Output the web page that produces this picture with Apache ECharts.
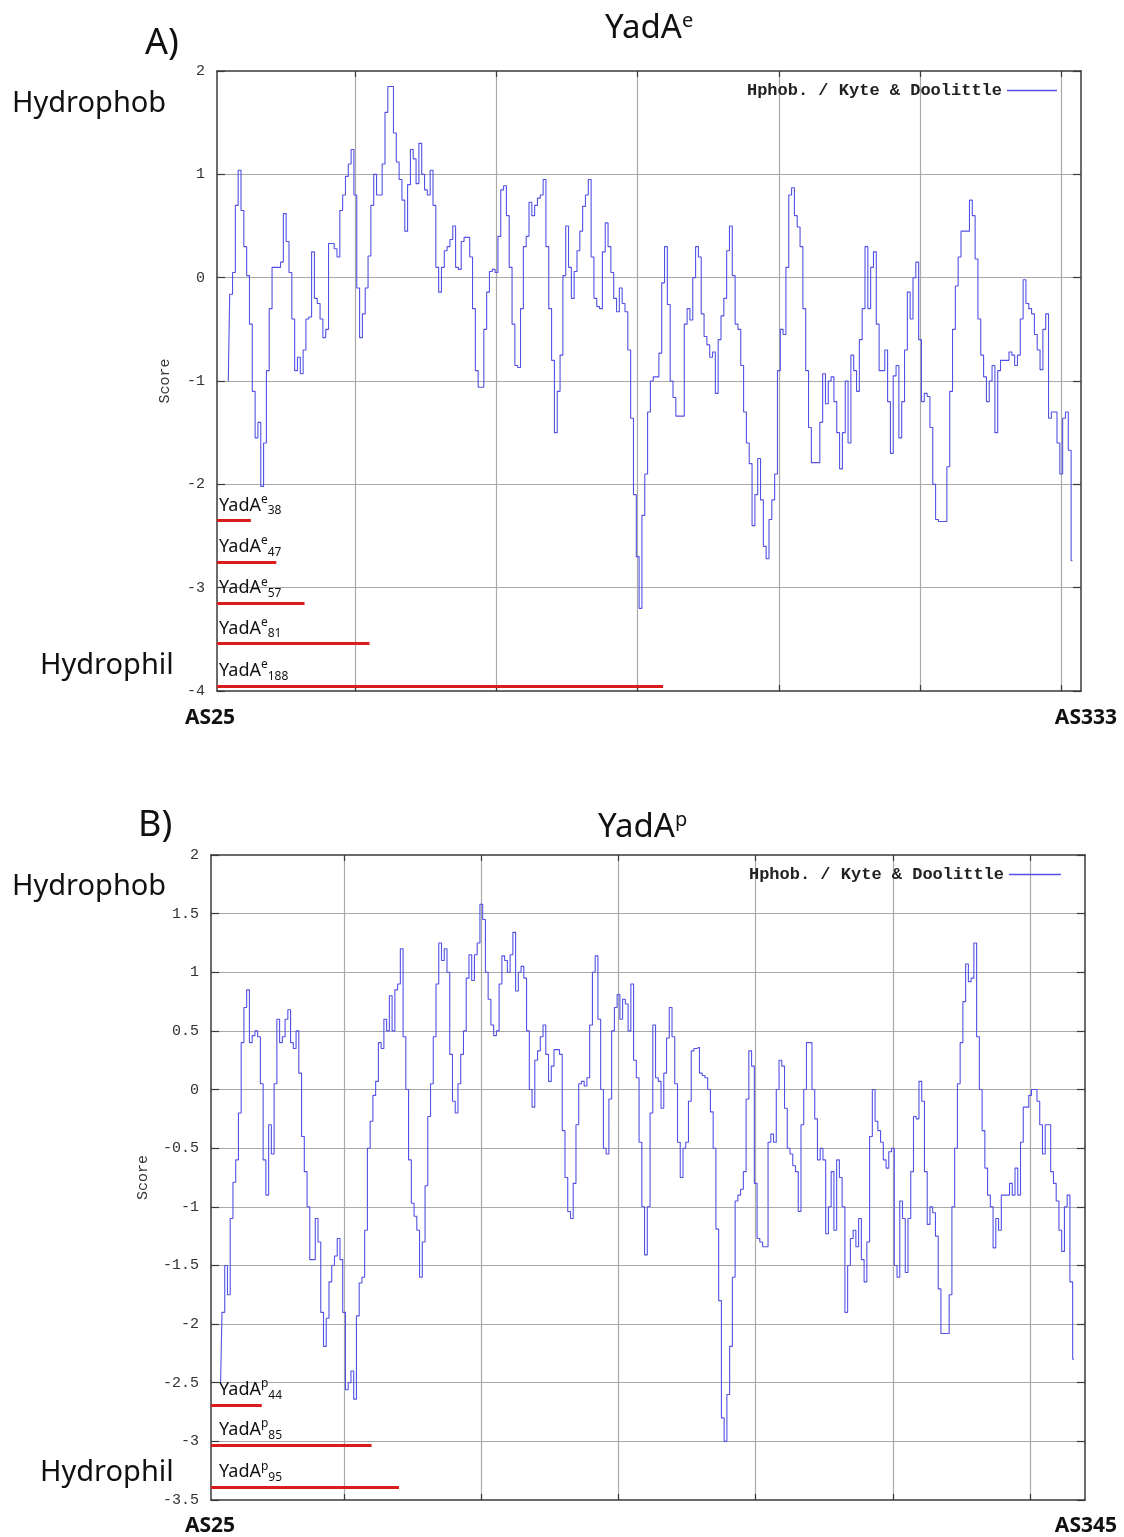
<!DOCTYPE html>
<html><head><meta charset="utf-8">
<script src="https://cdn.jsdelivr.net/npm/echarts@6/dist/echarts.min.js"></script>
<style>html,body{margin:0;padding:0;background:#fff}#c{width:1124px;height:1537px}</style>
</head><body><div id="c"></div>
<script>
// ---------- DATA ----------
const legendLabel = 'Hphob. / Kyte & Doolittle';
const axisName = 'Score';
const panelTitlesBase = ['YadA', 'YadA'];
const panelTitlesSup = ['e', 'p'];
const panelLetters = ['A)', 'B)'];
const scaleEnds = ['Hydrophob', 'Hydrophil'];
const rangeLabelsA = ['AS25', 'AS333'];
const rangeLabelsB = ['AS25', 'AS345'];
const xGridTicks = [50, 100, 150, 200, 250, 300];

// Kyte & Doolittle scores, panel A (first value at position 5)
const startA = 5;
const scoresA = [
 -1.0, -0.16, 0.05, 0.7, 1.04, 0.65, 0.3, 0.02, -0.45, -1.1,
 -1.55, -1.4, -2.02, -1.6, -0.9, -0.3, 0.1, 0.1, 0.1, 0.15,
 0.62, 0.35, 0.05, -0.4, -0.9, -0.77, -0.93, -0.7, -0.4, -0.38,
 0.25, -0.2, -0.25, -0.4, -0.58, -0.5, 0.33, 0.33, 0.28, 0.2,
 0.65, 0.8, 0.98, 1.1, 1.24, 0.8, -0.1, -0.58, -0.35, -0.1,
 0.21, 0.7, 1.0, 0.8, 0.8, 1.1, 1.6, 1.85, 1.85, 1.4,
 1.12, 0.95, 0.75, 0.45, 0.9, 1.24, 1.15, 0.91, 1.3, 1.0,
 0.85, 0.8, 1.04, 0.7, 0.1, -0.14, 0.1, 0.26, 0.3, 0.37,
 0.5, 0.1, 0.08, 0.35, 0.39, 0.39, 0.2, -0.3, -0.9, -1.06,
 -1.06, -0.5, -0.14, 0.06, 0.08, 0.05, 0.4, 0.85, 0.89, 0.6,
 0.1, -0.45, -0.85, -0.87, -0.3, 0.3, 0.4, 0.73, 0.6, 0.7,
 0.77, 0.8, 0.95, 0.3, -0.3, -0.8, -1.5, -1.1, -0.75, 0.02,
 0.5, 0.1, -0.2, 0.06, 0.26, 0.45, 0.69, 0.8, 0.95, 0.2,
 -0.2, -0.28, -0.3, 0.25, 0.53, 0.3, 0.05, -0.2, -0.33, -0.1,
 -0.25, -0.33, -0.7, -1.36, -2.1, -2.7, -3.2, -2.3, -1.9, -1.3,
 -1.0, -0.96, -0.96, -0.73, -0.05, 0.3, -0.26, -1.0, -1.16, -1.34,
 -1.34, -1.34, -0.45, -0.3, -0.41, 0.0, 0.3, 0.2, -0.35, -0.57,
 -0.65, -0.77, -0.72, -1.12, -0.6, -0.37, -0.2, 0.26, 0.5, 0.02,
 -0.45, -0.5, -0.85, -1.3, -1.6, -1.8, -2.4, -2.1, -1.75, -2.15,
 -2.6, -2.72, -2.34, -2.15, -1.9, -0.9, -0.5, -0.55, 0.1, 0.8,
 0.87, 0.6, 0.49, 0.3, -0.3, -0.9, -1.45, -1.79, -1.79, -1.79,
 -1.4, -0.93, -1.22, -1.0, -0.96, -1.2, -1.5, -1.85, -1.5, -1.0,
 -1.6, -0.75, -0.9, -1.1, -0.6, -0.3, 0.3, -0.3, 0.1, 0.25,
 -0.45, -0.9, -0.9, -0.7, -1.2, -1.7, -0.95, -0.85, -1.55, -1.2,
 -0.7, -0.14, -0.4, 0.0, 0.15, -0.6, -1.2, -1.12, -1.15, -1.45,
 -2.0, -2.34, -2.36, -2.36, -2.36, -1.83, -1.1, -0.5, -0.08, 0.2,
 0.45, 0.45, 0.45, 0.75, 0.6, 0.18, -0.4, -0.75, -0.96, -1.2,
 -1.0, -0.85, -1.5, -0.9, -0.8, -0.8, -0.8, -0.72, -0.75, -0.85,
 -0.75, -0.4, -0.02, -0.25, -0.3, -0.35, -0.55, -0.7, -0.89, -0.5,
 -0.35, -1.36, -1.3, -1.3, -1.6, -1.9, -1.36, -1.3, -1.67, -2.74
];

// Kyte & Doolittle scores, panel B (first value at position 5)
const startB = 5;
const scoresB = [
 -2.5, -1.9, -1.5, -1.75, -1.1, -0.79, -0.6, -0.2, 0.4, 0.7,
 0.85, 0.4, 0.46, 0.5, 0.45, 0.05, -0.6, -0.9, -0.3, -0.55,
 0.05, 0.6, 0.4, 0.45, 0.6, 0.68, 0.4, 0.35, 0.5, 0.14,
 -0.4, -0.7, -1.0, -1.45, -1.45, -1.1, -1.3, -1.9, -2.19, -1.95,
 -1.64, -1.5, -1.42, -1.27, -1.45, -1.9, -2.56, -2.5, -2.4, -2.64,
 -1.93, -1.65, -1.6, -1.2, -0.5, -0.27, -0.05, 0.07, 0.4, 0.35,
 0.6, 0.5, 0.8, 0.5, 0.85, 0.9, 1.2, 0.45, 0.0, -0.6,
 -0.97, -1.08, -1.2, -1.6, -1.3, -0.82, -0.23, 0.05, 0.45, 0.9,
 1.25, 1.1, 1.2, 1.0, 0.3, -0.1, -0.2, 0.05, 0.3, 0.5,
 0.95, 1.15, 0.93, 1.15, 1.25, 1.58, 1.45, 1.0, 0.77, 0.55,
 0.46, 0.5, 0.9, 1.14, 1.1, 1.0, 1.15, 1.34, 0.84, 1.0,
 1.05, 0.95, 0.5, 0.0, -0.15, 0.25, 0.33, 0.45, 0.55, 0.3,
 0.07, 0.2, 0.34, 0.34, 0.3, -0.35, -0.75, -1.04, -1.1, -0.8,
 -0.3, 0.05, 0.07, 0.03, 0.1, 0.55, 1.0, 1.14, 0.6, 0.0,
 -0.5, -0.55, -0.08, 0.5, 0.7, 0.81, 0.6, 0.77, 0.73, 0.5,
 0.9, 0.25, 0.1, -0.45, -1.0, -1.41, -1.0, -0.2, 0.55, 0.1,
 0.07, -0.16, 0.14, 0.44, 0.7, 0.45, 0.05, -0.45, -0.75, -0.5,
 -0.45, -0.1, 0.33, 0.35, 0.36, 0.14, 0.12, 0.1, 0.0, -0.19,
 -0.5, -1.19, -1.8, -2.8, -3.0, -2.6, -2.19, -1.6, -0.95, -0.9,
 -0.85, -0.7, -0.08, 0.33, 0.2, -0.8, -1.27, -1.3, -1.34, -1.34,
 -0.45, -0.38, -0.45, 0.0, 0.25, 0.2, -0.16, -0.5, -0.55, -0.65,
 -0.7, -1.04, -0.3, 0.0, 0.4, 0.4, 0.0, -0.25, -0.6, -0.5,
 -0.6, -1.23, -1.0, -0.7, -1.2, -0.6, -0.75, -1.0, -1.9, -1.5,
 -1.27, -1.2, -1.34, -1.1, -1.45, -1.64, -1.3, -0.4, 0.0, -0.27,
 -0.35, -0.45, -0.6, -0.67, -0.53, -0.5, -1.5, -1.6, -0.95, -1.1,
 -1.56, -1.1, -0.7, -0.23, -0.25, 0.07, -0.1, -0.7, -1.15, -1.0,
 -1.05, -1.25, -1.7, -2.08, -2.08, -2.08, -1.75, -1.0, -0.5, 0.05,
 0.4, 0.75, 1.07, 0.92, 0.95, 1.25, 0.45, 0.0, -0.35, -0.67,
 -0.9, -1.0, -1.35, -1.1, -1.2, -0.9, -0.9, -0.9, -0.8, -0.9,
 -0.67, -0.9, -0.45, -0.15, -0.15, -0.05, 0.0, 0.0, -0.1, -0.3,
 -0.55, -0.3, -0.3, -0.7, -0.8, -0.95, -1.2, -1.38, -1.0, -0.9,
 -1.64, -2.3
];

// fragments (name subscript, end position on the plot axis)
const fragmentsA = ['38', '47', '57', '81', '188'];
const fragmentEndsA = [13, 22, 32, 55, 159];
const fragmentsB = ['44', '85', '95'];
const fragmentEndsB = [20, 60, 70];

// ---------- LAYOUT ----------
const rowsA = [-2.35, -2.75, -3.15, -3.54, -3.95];
const rowsB = [-2.69, -3.03, -3.39];
const xRangeA = [1, 307];
const xRangeB = [1.5, 320];

const BLUE = '#5252e6', RED = '#dc1c1c', FRAME = '#3a3a3a', GRID = '#a9a9a9';
const MONO = "'Liberation Mono', 'DejaVu Sans Mono', monospace";
const SANS = "'Noto Sans', 'Open Sans', sans-serif";

function xAxes(gi, range) {
  const base = {
    gridIndex: gi, type: 'value', min: range[0], max: range[1],
    axisLine: { show: true, onZero: false, lineStyle: { color: FRAME, width: 1.5 } },
    axisTick: { show: true, inside: true, length: 6, customValues: xGridTicks, lineStyle: { color: FRAME, width: 1.2 } },
    axisLabel: { show: false, customValues: xGridTicks }
  };
  return [
    Object.assign({}, base, { position: 'bottom', splitLine: { show: true, lineStyle: { color: GRID, width: 1.2 } } }),
    Object.assign({}, base, { position: 'top', splitLine: { show: false } })
  ];
}
function yAxes(gi, min, max, interval, nameGap, fs) {
  const base = {
    gridIndex: gi, type: 'value', min: min, max: max, interval: interval,
    axisLine: { show: true, onZero: false, lineStyle: { color: FRAME, width: 1.5 } },
    axisTick: { show: true, inside: true, length: 8, lineStyle: { color: FRAME, width: 1.2 } }
  };
  return [
    Object.assign({}, base, {
      position: 'left',
      axisLabel: { show: true, margin: 12, fontFamily: MONO, fontSize: fs, color: '#333', formatter: v => String(v) },
      splitLine: { show: true, showMinLine: false, showMaxLine: false, lineStyle: { color: GRID, width: 1.2 } },
      name: axisName, nameLocation: 'middle', nameRotate: 90, nameGap: nameGap,
      nameTextStyle: { fontFamily: MONO, fontSize: 15, color: '#333' }
    }),
    Object.assign({}, base, { position: 'right', axisLabel: { show: false }, splitLine: { show: false } })
  ];
}

function fragSeries(name, sup, frags, ends, rows, xmin, xi, yi, dist) {
  return {
    name: name, type: 'lines', coordinateSystem: 'cartesian2d',
    xAxisIndex: xi, yAxisIndex: yi, silent: true, z: 5,
    lineStyle: { color: RED, width: 3, opacity: 1 },
    label: {
      show: true, position: 'insideStartTop', distance: dist,
      formatter: p => '{b|YadA}{s|' + sup + '}{u|' + p.name + '}',
      rich: {
        b: { fontFamily: SANS, fontSize: 18, color: '#111' },
        s: { fontFamily: SANS, fontSize: 12, color: '#111', padding: [0, 0, 12, 0] },
        u: { fontFamily: SANS, fontSize: 12, color: '#111', padding: [11, 0, 0, 0] }
      }
    },
    data: frags.map((n, i) => ({ name: n, coords: [[xmin, rows[i]], [ends[i], rows[i]]] }))
  };
}

function txt(text, x, y, font, align, rich) {
  const st = { text: text, font: font, fill: '#111', align: align || 'left', verticalAlign: 'middle',
               textAlign: align || 'left', textVerticalAlign: 'middle' };
  if (rich) st.rich = rich;
  return { type: 'text', x: x, y: y, style: st, z: 10 };
}
const titleRich = {
  m: { font: '33px ' + SANS, fill: '#111' },
  s: { font: '20px ' + SANS, fill: '#111', padding: [0, 0, 16, 0] }
};

const legendText = { fontFamily: MONO, fontSize: 17, fontWeight: 'bold', color: '#222' };

const chart = echarts.init(document.getElementById('c'), null, { renderer: 'canvas' });
chart.setOption({
  animation: false,
  backgroundColor: '#fff',
  grid: [
    { left: 217, top: 71, width: 864, height: 620 },
    { left: 211, top: 855, width: 874, height: 645 }
  ],
  xAxis: [].concat(xAxes(0, xRangeA), xAxes(1, xRangeB)),
  yAxis: [].concat(yAxes(0, -4, 2, 1, 44, 15), yAxes(1, -3.5, 2, 0.5, 60, 15)),
  legend: [
    { data: ['A'], right: 62, top: 77, align: 'right', icon: 'rect', itemWidth: 50, itemHeight: 1.5, itemGap: 6,
      formatter: () => legendLabel, textStyle: legendText },
    { data: ['B'], right: 58, top: 861, align: 'right', icon: 'rect', itemWidth: 52, itemHeight: 1.5, itemGap: 6,
      formatter: () => legendLabel, textStyle: legendText }
  ],
  series: [
    { name: 'A', type: 'line', xAxisIndex: 0, yAxisIndex: 0, step: 'middle', showSymbol: false,
      lineStyle: { color: BLUE, width: 1.1 }, itemStyle: { color: BLUE }, z: 3,
      data: scoresA.map((v, i) => [startA + i, v]) },
    { name: 'B', type: 'line', xAxisIndex: 2, yAxisIndex: 2, step: 'middle', showSymbol: false,
      lineStyle: { color: BLUE, width: 1.1 }, itemStyle: { color: BLUE }, z: 3,
      data: scoresB.map((v, i) => [startB + i, v]) },
    fragSeries('fragA', panelTitlesSup[0], fragmentsA, fragmentEndsA, rowsA, xRangeA[0], 0, 0, [2, 3]),
    fragSeries('fragB', panelTitlesSup[1], fragmentsB, fragmentEndsB, rowsB, xRangeB[0], 2, 2, [8, 3])
  ],
  graphic: [
    txt(panelLetters[0], 145, 44, '36px ' + SANS),
    txt('{m|' + panelTitlesBase[0] + '}{s|' + panelTitlesSup[0] + '}', 605, 29, '33px ' + SANS, 'left', titleRich),
    txt(scaleEnds[0], 12, 104, '29px ' + SANS),
    txt(scaleEnds[1], 40, 666, '29px ' + SANS),
    txt(rangeLabelsA[0], 185, 718, 'bold 21px ' + SANS),
    txt(rangeLabelsA[1], 1117, 718, 'bold 21px ' + SANS, 'right'),
    txt(panelLetters[1], 138, 826, '36px ' + SANS),
    txt('{m|' + panelTitlesBase[1] + '}{s|' + panelTitlesSup[1] + '}', 598, 828, '33px ' + SANS, 'left', titleRich),
    txt(scaleEnds[0], 12, 887, '29px ' + SANS),
    txt(scaleEnds[1], 40, 1473, '29px ' + SANS),
    txt(rangeLabelsB[0], 185, 1526, 'bold 21px ' + SANS),
    txt(rangeLabelsB[1], 1117, 1526, 'bold 21px ' + SANS, 'right')
  ]
});
</script>
</body></html>
